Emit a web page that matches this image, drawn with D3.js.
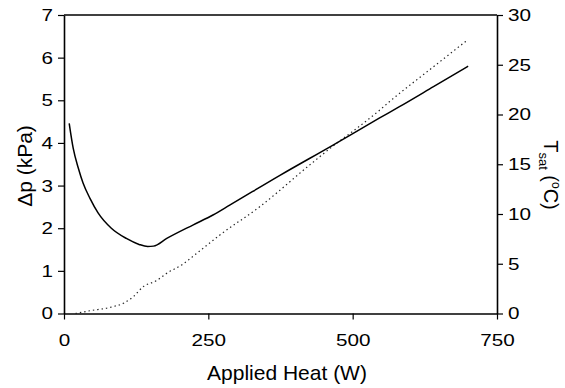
<!DOCTYPE html>
<html>
<head>
<meta charset="utf-8">
<script src="https://cdn.jsdelivr.net/npm/d3@7"></script>
<style>
  html, body { margin: 0; padding: 0; background: #fff; }
  svg { display: block; font-family: "Liberation Sans", Arial, Helvetica, sans-serif; }
</style>
</head>
<body>
<svg id="chart" width="565" height="388"></svg>
<script>
// Applied heat (W) vs pressure drop (kPa, left axis)
const heatDp = [9, 16, 25, 33, 45, 59, 82, 108, 130, 145, 155, 178, 224, 258, 287, 374, 466, 546, 581, 640, 700];
const dpValues = [4.46, 3.87, 3.40, 3.06, 2.70, 2.36, 2.00, 1.76, 1.62, 1.57, 1.58, 1.76, 2.08, 2.31, 2.54, 3.24, 3.95, 4.58, 4.85, 5.32, 5.80];

// Applied heat (W) vs saturation temperature (°C, right axis)
const heatT = [20, 45, 80, 105, 120, 137, 160, 178, 206, 230, 270, 339, 425, 472, 500, 547, 564, 640, 697];
const tsatValues = [0, 0.28, 0.62, 1.09, 1.69, 2.69, 3.3, 4.04, 4.97, 6.05, 7.89, 10.73, 14.9, 17.1, 18.3, 20.45, 21.3, 24.8, 27.4];

const xTicks = [0, 250, 500, 750];
const dpTicks = [0, 1, 2, 3, 4, 5, 6, 7];
const tTicks = [0, 5, 10, 15, 20, 25, 30];

const svg = d3.select("#chart");
const plotLeft = 64, plotRight = 497, plotTop = 15, plotBottom = 313.5;

const x = d3.scaleLinear().domain([0, 750]).range([plotLeft, plotRight]);
const yDp = d3.scaleLinear().domain([0, 7]).range([plotBottom, plotTop]);
const yT = d3.scaleLinear().domain([0, 30]).range([plotBottom, plotTop]);

const tickFont = 17, digitW = 11.5;
function styleTicks(g) {
  g.select(".domain").attr("stroke", "#000").attr("stroke-width", 1.6);
  g.selectAll(".tick line").attr("stroke", "#000").attr("stroke-width", 1.2);
  g.selectAll(".tick text")
    .attr("fill", "#000")
    .attr("font-size", tickFont)
    .attr("font-family", "Liberation Sans, Arial, sans-serif")
    .attr("textLength", function () { return this.textContent.length * digitW; })
    .attr("lengthAdjust", "spacingAndGlyphs");
}

// top frame line
svg.append("line")
  .attr("x1", plotLeft).attr("x2", plotRight).attr("y1", plotTop).attr("y2", plotTop)
  .attr("stroke", "#000").attr("stroke-width", 1.6);

// bottom axis
const gx = svg.append("g").attr("transform", `translate(0,${plotBottom})`)
  .call(d3.axisBottom(x).tickValues(xTicks).tickSize(6).tickSizeOuter(0).tickPadding(14).tickFormat(d3.format("d")));
styleTicks(gx);
gx.selectAll(".tick text").attr("dy", "0.71em").attr("y", 20);

// left axis
const gl = svg.append("g").attr("transform", `translate(${plotLeft},0)`)
  .call(d3.axisLeft(yDp).tickValues(dpTicks).tickSize(6).tickSizeOuter(0).tickPadding(5).tickFormat(d3.format("d")));
styleTicks(gl);

// right axis
const gr = svg.append("g").attr("transform", `translate(${plotRight},0)`)
  .call(d3.axisRight(yT).tickValues(tTicks).tickSize(6).tickSizeOuter(0).tickPadding(5).tickFormat(d3.format("d")));
styleTicks(gr);

// series lines
const lineDp = d3.line()
  .x((d, i) => x(heatDp[i]))
  .y(d => yDp(d))
  .curve(d3.curveMonotoneX);
const lineT = d3.line()
  .x((d, i) => x(heatT[i]))
  .y(d => yT(d))
  .curve(d3.curveMonotoneX);

svg.append("path").datum(tsatValues)
  .attr("d", lineT)
  .attr("fill", "none")
  .attr("stroke", "#222")
  .attr("stroke-width", 1.2)
  .attr("stroke-dasharray", "1.4,3");

svg.append("path").datum(dpValues)
  .attr("d", lineDp)
  .attr("fill", "none")
  .attr("stroke", "#000")
  .attr("stroke-width", 1.5);

// axis titles
svg.append("text")
  .attr("x", 287).attr("y", 380)
  .attr("text-anchor", "middle")
  .attr("font-size", 21)
  .attr("fill", "#000")
  .text("Applied Heat (W)");

svg.append("text")
  .attr("transform", "translate(32,166) rotate(-90)")
  .attr("text-anchor", "middle")
  .attr("font-size", 21)
  .attr("fill", "#000")
  .text("\u0394p (kPa)");

const rt = svg.append("text")
  .attr("transform", "translate(544,175) rotate(90)")
  .attr("text-anchor", "middle")
  .attr("font-size", 20)
  .attr("fill", "#000");
rt.append("tspan").text("T");
rt.append("tspan").attr("font-size", 13).attr("dy", 5).text("sat");
rt.append("tspan").attr("dy", -5).text(" (");
rt.append("tspan").attr("font-size", 12).attr("dy", -8).text("o");
rt.append("tspan").attr("dy", 8).text("C)");
</script>
</body>
</html>
